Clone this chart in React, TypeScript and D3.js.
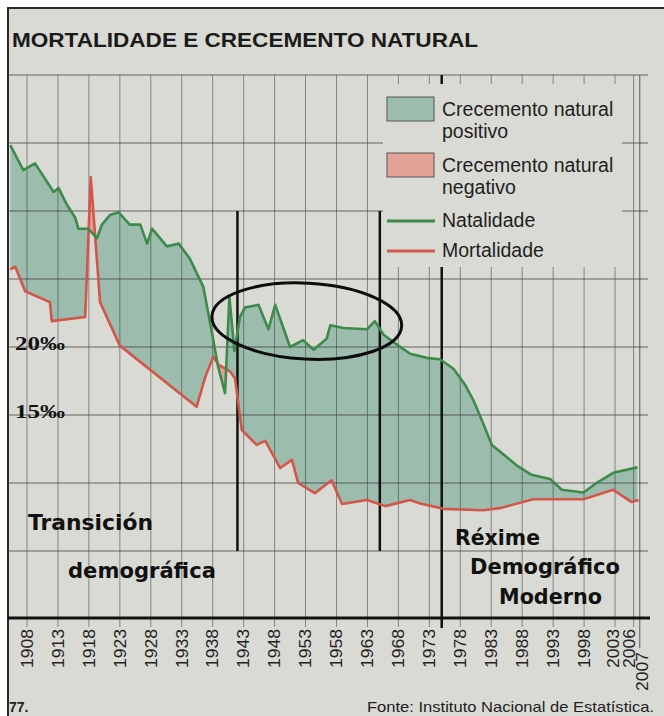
import React, { useEffect, useRef } from "react";
import * as d3 from "d3";

// values (per thousand)
const natalityYears = [1905.3, 1907.4, 1909.3, 1912.3, 1913.1, 1914.4, 1915.8, 1916.3, 1917.9, 1919.3, 1920.1, 1921.4, 1922.8, 1924.6, 1926.3, 1927.4, 1928.2, 1930.6, 1932.5, 1934.3, 1936.5, 1937.9, 1938.9, 1940.0, 1940.7, 1941.5, 1942.4, 1943.2, 1945.4, 1947.0, 1948.1, 1950.5, 1952.6, 1954.3, 1956.4, 1957.0, 1959.1, 1962.9, 1964.2, 1965.6, 1968.0, 1969.9, 1972.6, 1974.7, 1976.9, 1978.8, 1980.1, 1981.5, 1983.1, 1985.0, 1987.1, 1989.5, 1992.5, 1994.4, 1997.9, 2000.0, 2002.7, 2006.6];
const natality = [34.85, 33.0, 33.5, 31.4, 31.7, 30.5, 29.5, 28.7, 28.7, 28.0, 29.0, 29.7, 29.9, 29.0, 29.0, 27.6, 28.7, 27.4, 27.6, 26.5, 24.4, 21.0, 18.5, 16.6, 23.7, 19.7, 22.2, 22.9, 23.1, 21.3, 23.1, 20.0, 20.5, 19.8, 20.6, 21.6, 21.4, 21.3, 21.9, 20.9, 20.1, 19.5, 19.2, 19.1, 18.4, 17.2, 16.1, 14.6, 12.8, 12.1, 11.3, 10.6, 10.3, 9.5, 9.3, 10.0, 10.75, 11.15];

const mortalityYears = [1905.3, 1906.1, 1907.7, 1911.7, 1912.0, 1917.4, 1918.3, 1919.8, 1923.0, 1935.4, 1936.8, 1938.1, 1938.9, 1940.8, 1941.6, 1942.7, 1945.1, 1946.5, 1948.9, 1950.8, 1951.8, 1954.5, 1957.2, 1958.9, 1962.9, 1965.9, 1969.9, 1971.5, 1975.3, 1981.7, 1984.4, 1989.8, 1997.9, 2002.7, 2005.7, 2006.8];
const mortality = [25.7, 25.9, 24.1, 23.3, 21.9, 22.2, 32.5, 23.3, 20.1, 15.6, 17.8, 19.3, 18.7, 18.2, 17.7, 13.9, 12.8, 13.1, 11.1, 11.7, 10.0, 9.25, 10.2, 8.45, 8.75, 8.3, 8.75, 8.5, 8.1, 8.0, 8.15, 8.8, 8.8, 9.5, 8.6, 8.75];

const tickYears = [1908, 1913, 1918, 1923, 1928, 1933, 1938, 1943, 1948, 1953, 1958, 1963, 1968, 1973, 1978, 1983, 1988, 1993, 1998, 2003, 2006, 2007];
const gridValues = [5, 10, 15, 20, 25, 30, 35, 40];
const labelledValues = [20, 15];
const dividerYears = [1942, 1965, 1975];

const legendBoxes = [["Crecemento natural", "positivo"], ["Crecemento natural", "negativo"]];
const legendLines = ["Natalidade", "Mortalidade"];
const stageOld = ["Transición", "demográfica"];
const stageNew = ["Réxime", "Demográfico", "Moderno"];

const W = 664, H = 716;
const PAPER = "#dadad5";
const GREEN_FILL = "#9cbcae";
const PINK_FILL = "#e2a295";
const GREEN = "#3d8a4c";
const RED = "#d2564a";
const SANS = "'Liberation Sans', Arial, sans-serif";

// the last three labels are nudged apart so they don't collide
const labelShift = (yr: number) => (yr === 2003 ? -2 : yr === 2006 ? -4 : yr === 2007 ? 2.5 : 0);

export default function App() {
  const ref = useRef<SVGSVGElement>(null);

  useEffect(() => {
    const svg = d3.select(ref.current);
    svg.selectAll("*").remove();

    const x = d3.scaleLinear().domain([1908, 2007]).range([27, 639.8]);
    const y = d3.scaleLinear().domain([0, 40]).range([619, 75]);

    const nat = natalityYears.map((yr, i) => [yr, natality[i]]);
    const mor = mortalityYears.map((yr, i) => [yr, mortality[i]]);

    // page + paper
    svg.append("rect").attr("width", W).attr("height", H).attr("fill", "#fff");
    svg.append("rect").attr("x", 8).attr("y", 8).attr("width", W - 8).attr("height", H - 8).attr("fill", PAPER);
    svg.append("path").attr("d", `M8,${H} V8 H${W}`).attr("fill", "none").attr("stroke", "#2a2a2a").attr("stroke-width", 2);

    svg.append("text")
      .attr("x", 12).attr("y", 47)
      .attr("font-family", SANS).attr("font-weight", "bold").attr("font-size", 21)
      .attr("textLength", 466).attr("lengthAdjust", "spacingAndGlyphs")
      .attr("fill", "#1b1b1b")
      .text("MORTALIDADE E CRECEMENTO NATURAL");

    // fills between the two rates, via clip paths
    const above = d3.area<number[]>().x(d => x(d[0])).y0(0).y1(d => y(d[1]));
    const below = d3.area<number[]>().x(d => x(d[0])).y0(y(0)).y1(d => y(d[1]));
    const defs = svg.append("defs");
    defs.append("clipPath").attr("id", "aboveMort").append("path").attr("d", above(mor));
    defs.append("clipPath").attr("id", "aboveNat").append("path").attr("d", above(nat));
    svg.append("path").attr("d", below(nat)).attr("fill", GREEN_FILL).attr("clip-path", "url(#aboveMort)");
    svg.append("path").attr("d", below(mor)).attr("fill", PINK_FILL).attr("clip-path", "url(#aboveNat)");

    // grid
    const grid = svg.append("g").attr("stroke", "#3a3a3a");
    gridValues.forEach(v => {
      grid.append("line")
        .attr("x1", 8).attr("x2", 648).attr("y1", y(v)).attr("y2", y(v))
        .attr("stroke-width", 1).attr("opacity", 0.75);
    });
    tickYears.forEach(yr => {
      grid.append("line")
        .attr("x1", x(yr)).attr("x2", x(yr))
        .attr("y1", y(40)).attr("y2", yr === 2007 ? 648 : y(0) + 8)
        .attr("stroke-width", 0.9).attr("opacity", yr === 2007 ? 0.9 : 0.6);
    });

    // period dividers
    dividerYears.forEach((yr, i) => {
      svg.append("line")
        .attr("x1", x(yr)).attr("x2", x(yr))
        .attr("y1", i < 2 ? y(30) : y(40)).attr("y2", i < 2 ? y(5) : y(0) + 9)
        .attr("stroke", "#111").attr("stroke-width", 2.5);
    });

    // rate lines
    const line = d3.line<number[]>().x(d => x(d[0])).y(d => y(d[1]));
    svg.append("path").attr("d", line(mor)).attr("fill", "none").attr("stroke", RED)
      .attr("stroke-width", 2.6).attr("stroke-linejoin", "round");
    svg.append("path").attr("d", line(nat)).attr("fill", "none").attr("stroke", GREEN)
      .attr("stroke-width", 2.6).attr("stroke-linejoin", "round");

    // highlight ellipse round the 1943-1965 natality plateau
    svg.append("ellipse")
      .attr("cx", x(1953.2)).attr("cy", y(21.9)).attr("rx", 95).attr("ry", 38)
      .attr("transform", `rotate(3 ${x(1953.2)} ${y(21.9)})`)
      .attr("fill", "none").attr("stroke", "#0c0c0c").attr("stroke-width", 3);

    // x axis
    svg.append("line").attr("x1", 8).attr("x2", 650).attr("y1", y(0) - 1).attr("y2", y(0) - 1)
      .attr("stroke", "#111").attr("stroke-width", 3);
    tickYears.forEach(yr => {
      svg.append("text")
        .attr("transform", `translate(${x(yr) + 5.8 + labelShift(yr)},${yr === 2007 ? 652 : 629}) rotate(-90)`)
        .attr("text-anchor", "end")
        .attr("font-family", SANS).attr("font-size", 16).attr("fill", "#222")
        .attr("textLength", 39).attr("lengthAdjust", "spacingAndGlyphs")
        .text(yr);
    });

    // y labels
    labelledValues.forEach(v => {
      svg.append("text")
        .attr("x", 15).attr("y", y(v) + 3)
        .attr("font-family", "'Liberation Serif', 'Times New Roman', serif")
        .attr("font-weight", "bold").attr("font-size", 18)
        .attr("textLength", 50).attr("lengthAdjust", "spacingAndGlyphs")
        .attr("fill", "#111")
        .text(v + "‰");
    });

    // legend
    const lg = svg.append("g");
    lg.append("rect").attr("x", 383).attr("y", 84).attr("width", 239).attr("height", 183).attr("fill", PAPER);
    legendBoxes.forEach((lines, i) => {
      const top = 97 + i * 56;
      lg.append("rect").attr("x", 387).attr("y", top).attr("width", 47).attr("height", 24)
        .attr("fill", i === 0 ? GREEN_FILL : PINK_FILL).attr("stroke", "#555").attr("stroke-width", 1);
      lines.forEach((t, j) => {
        lg.append("text").attr("x", 442).attr("y", top + 19 + j * 22)
          .attr("font-family", SANS).attr("font-size", 19.5).attr("fill", "#1e1e1e").text(t);
      });
    });
    legendLines.forEach((t, i) => {
      const cy = 221 + i * 30;
      lg.append("line").attr("x1", 387).attr("x2", 435).attr("y1", cy).attr("y2", cy)
        .attr("stroke", i === 0 ? GREEN : RED).attr("stroke-width", 3.2);
      lg.append("text").attr("x", 442).attr("y", cy + 6)
        .attr("font-family", SANS).attr("font-size", 19.5).attr("fill", "#1e1e1e").text(t);
    });

    // stage labels
    const stage = (t: string, xx: number, yy: number, len: number) =>
      svg.append("text").attr("x", xx).attr("y", yy)
        .attr("font-family", "'DejaVu Sans', sans-serif").attr("font-weight", "bold").attr("font-size", 22)
        .attr("textLength", len).attr("lengthAdjust", "spacingAndGlyphs")
        .attr("fill", "#111").text(t);
    stage(stageOld[0], 28, 530, 125);
    stage(stageOld[1], 68, 578, 148);
    stage(stageNew[0], 455, 545, 85);
    stage(stageNew[1], 470, 574, 150);
    stage(stageNew[2], 499, 604, 103);

    // footer
    svg.append("text").attr("x", 9).attr("y", 712)
      .attr("font-family", SANS).attr("font-weight", "bold").attr("font-size", 14).attr("fill", "#222").text("77.");
    svg.append("text").attr("x", 367).attr("y", 712)
      .attr("font-family", SANS).attr("font-size", 15).attr("fill", "#222")
      .attr("textLength", 287).attr("lengthAdjust", "spacingAndGlyphs")
      .text("Fonte: Instituto Nacional de Estatística.");
  }, []);

  return (
    <svg ref={ref} width={W} height={H}
      style={{ position: "absolute", left: 0, top: 0, display: "block" }} />
  );
}
